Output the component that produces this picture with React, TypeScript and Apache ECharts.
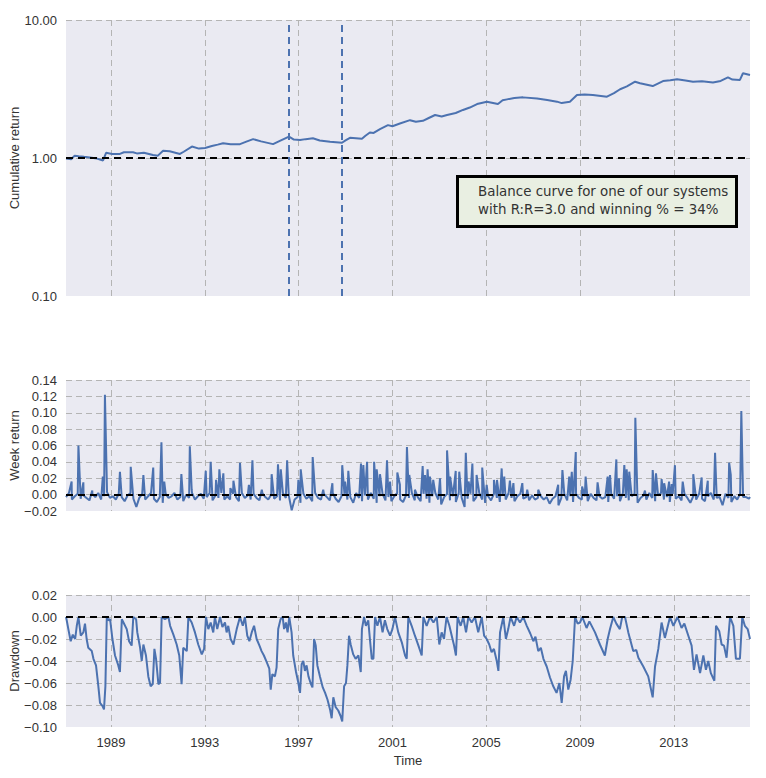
import React, { useEffect, useRef } from "react";
import * as echarts from "echarts";

// ---------- data (x in decimal years) ----------
const yearTicks = [1989, 1993, 1997, 2001, 2005, 2009, 2013];
const xMin = 1987.08;
const xMax = 2016.25;

const cumulative: [number, number][] = [
  [1987.08, 0.99], [1987.3, 0.98], [1987.45, 1.04], [1987.62, 1.03], [1987.85, 1.02], [1988.1, 1.01],
  [1988.4, 0.99], [1988.66, 0.96], [1988.79, 1.09], [1989.05, 1.07], [1989.38, 1.07], [1989.55, 1.1],
  [1989.94, 1.1], [1990.1, 1.08], [1990.4, 1.09], [1990.79, 1.05], [1991.0, 1.04], [1991.22, 1.13],
  [1991.5, 1.12], [1991.94, 1.07], [1992.1, 1.11], [1992.45, 1.21], [1992.75, 1.17], [1993.01, 1.18],
  [1993.3, 1.22], [1993.55, 1.25], [1993.78, 1.28], [1994.1, 1.26], [1994.5, 1.26], [1994.8, 1.32],
  [1995.06, 1.37], [1995.4, 1.32], [1995.91, 1.26], [1996.2, 1.33], [1996.59, 1.43], [1996.8, 1.36],
  [1997.06, 1.35], [1997.3, 1.37], [1997.61, 1.39], [1997.9, 1.34], [1998.34, 1.31], [1998.85, 1.29],
  [1999.0, 1.34], [1999.19, 1.4], [1999.7, 1.38], [1999.85, 1.45], [2000.04, 1.53], [2000.2, 1.52],
  [2000.47, 1.62], [2000.81, 1.73], [2001.0, 1.7], [2001.32, 1.78], [2001.75, 1.88], [2002.0, 1.83],
  [2002.3, 1.86], [2002.55, 1.95], [2002.82, 2.05], [2003.1, 2.0], [2003.33, 2.05], [2003.7, 2.12],
  [2004.01, 2.23], [2004.3, 2.32], [2004.61, 2.46], [2005.03, 2.56], [2005.5, 2.46], [2005.7, 2.62],
  [2005.89, 2.66], [2006.2, 2.72], [2006.57, 2.75], [2007.17, 2.7], [2007.6, 2.63], [2008.02, 2.56],
  [2008.22, 2.5], [2008.57, 2.56], [2008.87, 2.86], [2009.2, 2.88], [2009.55, 2.86], [2010.15, 2.78],
  [2010.45, 2.95], [2010.71, 3.15], [2011.0, 3.3], [2011.35, 3.57], [2011.56, 3.48], [2012.1, 3.32],
  [2012.3, 3.45], [2012.54, 3.61], [2012.85, 3.66], [2013.14, 3.72], [2013.5, 3.65], [2013.82, 3.57],
  [2014.2, 3.6], [2014.67, 3.52], [2015.0, 3.62], [2015.31, 3.84], [2015.5, 3.7], [2015.82, 3.68],
  [2015.95, 4.11], [2016.25, 3.99],
];

// weekly-return background noise, one reading every 1.5 months from 1987.08
const weekNoiseStart = 1987.08;
const weekNoiseStep = 0.125;
const weekNoise = [
  -0.003, 0.002, -0.006, -0.002, 0.001, -0.005, -0.001, -0.004,
  -0.007, 0.001, -0.003, 0.002, -0.006, -0.002, 0.003, -0.004,
  -0.002, -0.006, 0.001, -0.003, -0.008, -0.001, 0.002, -0.005,
  -0.015, -0.004, 0.001, -0.006, -0.002, 0.002, -0.005, -0.009,
  -0.003, -0.01, 0.001, -0.004, -0.002, 0.002, -0.006, -0.003,
  -0.008, 0.0, -0.004, 0.002, -0.006, -0.002, 0.001, -0.005,
  -0.003, 0.002, -0.007, -0.001, -0.004, 0.002, -0.006, -0.002,
  -0.006, 0.001, -0.003, -0.008, 0.002, -0.004, -0.001, -0.006,
  0.001, -0.004, -0.007, 0.002, -0.003, -0.006, 0.0, -0.005,
  -0.002, -0.007, 0.002, -0.004, -0.001, -0.019, -0.006, -0.003,
  -0.01, 0.001, -0.005, -0.002, -0.008, 0.002, -0.004, -0.006,
  0.001, -0.003, -0.007, 0.002, -0.005, -0.009, -0.002, 0.001,
  -0.006, -0.003, -0.01, 0.002, -0.004, -0.008, -0.001, -0.006,
  0.002, -0.005, -0.01, -0.002, 0.001, -0.007, -0.003, -0.008,
  -0.002, 0.002, -0.006, -0.009, -0.001, -0.004, 0.002, -0.007,
  -0.003, -0.008, 0.001, -0.005, -0.01, -0.002, 0.002, -0.006,
  -0.012, -0.003, 0.001, -0.007, -0.002, -0.009, 0.002, -0.004,
  -0.015, -0.005, 0.001, -0.008, -0.003, 0.002, -0.006, -0.01,
  -0.002, -0.007, 0.001, -0.004, -0.009, -0.001, -0.006, 0.002,
  -0.004, -0.008, -0.002, 0.001, -0.005, -0.003, -0.007, -0.001,
  -0.006, -0.004, -0.002, -0.006, -0.003, -0.011, -0.005, -0.002,
  -0.013, -0.004, 0.001, -0.007, -0.002, -0.009, 0.001, -0.004,
  -0.006, -0.002, -0.008, 0.001, -0.004, -0.007, -0.002, -0.005,
  -0.003, -0.009, 0.001, -0.005, -0.002, -0.008, 0.002, -0.004,
  -0.007, -0.002, 0.001, -0.01, -0.004, -0.001, -0.006, 0.002,
  -0.004, -0.008, -0.001, 0.002, -0.006, -0.003, -0.009, 0.001,
  -0.005, -0.002, -0.007, 0.001, -0.004, -0.01, -0.002, -0.006,
  0.001, -0.005, -0.008, -0.002, 0.002, -0.006, -0.004, -0.003,
  -0.013, 0.001, -0.004, -0.009, -0.002, -0.006, 0.001, -0.003,
  -0.003, -0.005,
];

const weekSpikes: [number, number][] = [
  [1987.32, 0.016], [1987.61, 0.06], [1987.82, 0.015], [1988.2, 0.005], [1988.65, 0.022], [1988.74, 0.122],
  [1989.38, 0.028], [1989.84, 0.034], [1990.38, 0.024], [1990.8, 0.033], [1991.15, 0.064], [1991.27, 0.016],
  [1992.0, 0.025], [1992.36, 0.059], [1992.44, 0.006], [1993.04, 0.029], [1993.25, 0.04], [1993.48, 0.018],
  [1993.62, 0.031], [1993.79, 0.026], [1994.09, 0.008], [1994.22, 0.017], [1994.5, 0.039], [1994.88, 0.012],
  [1995.03, 0.042], [1995.43, 0.006], [1995.85, 0.025], [1996.12, 0.037], [1996.24, 0.031], [1996.51, 0.042],
  [1996.99, 0.018], [1997.09, 0.031], [1997.6, 0.046], [1998.05, 0.006], [1998.44, 0.014], [1998.86, 0.036],
  [1998.98, 0.016], [1999.12, 0.029], [1999.66, 0.038], [1999.76, 0.036], [1999.92, 0.04], [2000.22, 0.04],
  [2000.33, 0.031], [2000.47, 0.025], [2000.77, 0.042], [2000.9, 0.016], [2001.21, 0.027], [2001.32, 0.012],
  [2001.62, 0.058], [2001.72, 0.024], [2001.96, 0.006], [2002.29, 0.035], [2002.39, 0.024], [2002.5, 0.031],
  [2002.6, 0.022], [2002.74, 0.018], [2003.03, 0.02], [2003.33, 0.054], [2003.46, 0.022], [2003.7, 0.029],
  [2003.85, 0.028], [2004.13, 0.051], [2004.25, 0.016], [2004.41, 0.038], [2004.59, 0.024], [2004.83, 0.033],
  [2005.02, 0.012], [2005.33, 0.018], [2005.46, 0.018], [2005.66, 0.032], [2005.77, 0.022], [2006.01, 0.017],
  [2006.16, 0.014], [2006.54, 0.014], [2006.75, 0.006], [2007.22, 0.006], [2008.07, 0.012], [2008.25, 0.03],
  [2008.54, 0.022], [2008.65, 0.028], [2008.82, 0.052], [2009.09, 0.01], [2009.24, 0.022], [2009.75, 0.015],
  [2010.18, 0.022], [2010.28, 0.024], [2010.55, 0.043], [2010.66, 0.02], [2010.89, 0.036], [2010.99, 0.031],
  [2011.1, 0.028], [2011.36, 0.094], [2011.77, 0.005], [2012.1, 0.03], [2012.24, 0.026], [2012.48, 0.019],
  [2012.59, 0.014], [2012.8, 0.016], [2012.91, 0.013], [2013.05, 0.036], [2013.38, 0.016], [2013.83, 0.025],
  [2014.19, 0.021], [2014.45, 0.017], [2014.76, 0.051], [2015.36, 0.039], [2015.43, 0.024], [2015.88, 0.102],
  [2016.25, -0.003],
];

const drawdown: [number, number][] = [
  [1987.08, 0], [1987.11, -0.003], [1987.18, -0.011], [1987.28, -0.022], [1987.37, -0.016], [1987.47, -0.02],
  [1987.54, -0.008], [1987.61, 0], [1987.71, -0.017], [1987.82, -0.014], [1987.89, -0.006], [1987.96, -0.02],
  [1988.03, -0.028], [1988.18, -0.031], [1988.25, -0.038], [1988.36, -0.044], [1988.46, -0.063], [1988.53, -0.078],
  [1988.64, -0.081], [1988.7, -0.084], [1988.76, -0.063], [1988.82, 0], [1988.89, -0.003], [1988.96, -0.002],
  [1989.06, -0.02], [1989.17, -0.035], [1989.31, -0.044], [1989.38, -0.05], [1989.46, -0.002], [1989.53, -0.005],
  [1989.67, -0.011], [1989.77, -0.022], [1989.88, -0.026], [1989.95, 0], [1990.07, -0.002], [1990.12, -0.014],
  [1990.24, -0.028], [1990.31, -0.04], [1990.38, -0.025], [1990.49, -0.035], [1990.59, -0.054], [1990.69, -0.063],
  [1990.78, -0.061], [1990.85, -0.029], [1990.92, -0.038], [1991.02, -0.061], [1991.09, -0.06], [1991.16, 0],
  [1991.3, -0.002], [1991.45, 0], [1991.52, -0.008], [1991.66, -0.016], [1991.8, -0.025], [1991.91, -0.035],
  [1992.01, -0.061], [1992.08, -0.028], [1992.23, -0.031], [1992.3, 0], [1992.44, -0.005], [1992.58, -0.014],
  [1992.72, -0.025], [1992.87, -0.034], [1992.97, -0.029], [1993.05, 0], [1993.15, -0.011], [1993.25, -0.005],
  [1993.36, -0.014], [1993.43, 0], [1993.53, -0.011], [1993.65, 0], [1993.75, -0.009], [1993.86, -0.005],
  [1993.93, -0.014], [1994.0, -0.008], [1994.1, -0.02], [1994.22, -0.025], [1994.36, -0.011], [1994.5, 0],
  [1994.62, -0.008], [1994.71, 0], [1994.81, -0.017], [1994.9, -0.022], [1995.0, -0.014], [1995.1, -0.008],
  [1995.21, -0.02], [1995.33, -0.026], [1995.42, -0.031], [1995.52, -0.035], [1995.64, -0.041], [1995.75, -0.047],
  [1995.81, -0.066], [1995.88, -0.052], [1995.99, -0.054], [1996.06, -0.046], [1996.13, -0.011], [1996.23, -0.002],
  [1996.32, 0], [1996.38, -0.011], [1996.46, -0.005], [1996.53, -0.014], [1996.6, 0], [1996.7, -0.014],
  [1996.77, -0.035], [1996.89, -0.05], [1996.99, -0.06], [1997.06, -0.069], [1997.13, -0.043], [1997.2, -0.04],
  [1997.27, -0.049], [1997.34, -0.044], [1997.42, -0.054], [1997.51, -0.06], [1997.59, -0.064], [1997.66, -0.02],
  [1997.73, -0.026], [1997.8, -0.044], [1997.91, -0.054], [1998.03, -0.064], [1998.13, -0.069], [1998.23, -0.075],
  [1998.34, -0.084], [1998.41, -0.092], [1998.48, -0.073], [1998.58, -0.082], [1998.69, -0.085], [1998.79, -0.09],
  [1998.86, -0.095], [1998.94, -0.063], [1999.02, -0.06], [1999.08, -0.044], [1999.15, -0.017], [1999.22, -0.025],
  [1999.33, -0.034], [1999.43, -0.038], [1999.55, -0.035], [1999.65, -0.05], [1999.7, -0.011], [1999.79, 0],
  [1999.87, -0.008], [1999.97, -0.003], [2000.04, -0.02], [2000.12, -0.038], [2000.19, -0.038], [2000.26, 0],
  [2000.36, -0.008], [2000.47, 0], [2000.58, -0.014], [2000.68, -0.003], [2000.78, -0.011], [2000.9, -0.017],
  [2001.0, -0.011], [2001.11, 0], [2001.25, -0.014], [2001.4, -0.023], [2001.54, -0.035], [2001.61, -0.038],
  [2001.68, 0], [2001.82, -0.008], [2001.96, -0.017], [2002.11, -0.026], [2002.25, -0.035], [2002.32, 0],
  [2002.46, -0.008], [2002.6, 0], [2002.75, -0.005], [2002.89, 0], [2003.0, -0.025], [2003.1, -0.014],
  [2003.2, -0.02], [2003.31, 0], [2003.43, -0.008], [2003.53, -0.017], [2003.63, -0.026], [2003.71, -0.035],
  [2003.78, 0], [2003.91, -0.008], [2004.02, 0], [2004.14, -0.014], [2004.24, 0], [2004.38, -0.005],
  [2004.52, 0], [2004.66, -0.014], [2004.81, 0], [2004.91, -0.017], [2005.02, -0.02], [2005.13, -0.025],
  [2005.23, -0.032], [2005.33, -0.029], [2005.45, -0.04], [2005.52, -0.049], [2005.59, -0.014], [2005.73, 0],
  [2005.84, -0.02], [2005.94, -0.011], [2006.04, 0], [2006.19, -0.008], [2006.3, 0], [2006.44, -0.005],
  [2006.58, 0], [2006.73, -0.008], [2006.88, -0.015], [2007.01, -0.022], [2007.1, -0.018], [2007.22, -0.031],
  [2007.33, -0.028], [2007.44, -0.038], [2007.58, -0.045], [2007.72, -0.055], [2007.86, -0.063], [2008.0, -0.069],
  [2008.12, -0.06], [2008.22, -0.078], [2008.32, -0.054], [2008.4, -0.049], [2008.5, -0.066], [2008.6, -0.057],
  [2008.69, -0.04], [2008.79, 0], [2008.9, -0.006], [2009.0, -0.005], [2009.1, 0], [2009.28, -0.01],
  [2009.4, -0.004], [2009.64, -0.014], [2009.85, -0.025], [2010.06, -0.035], [2010.18, -0.02], [2010.28, -0.011],
  [2010.42, 0], [2010.55, -0.006], [2010.7, -0.011], [2010.8, 0], [2010.92, 0], [2011.06, -0.014],
  [2011.27, -0.031], [2011.4, -0.03], [2011.49, -0.037], [2011.7, -0.045], [2011.91, -0.054], [2012.1, -0.073],
  [2012.2, -0.045], [2012.34, -0.029], [2012.48, -0.005], [2012.62, -0.019], [2012.84, 0], [2012.98, -0.008],
  [2013.16, 0], [2013.33, -0.01], [2013.45, -0.006], [2013.62, -0.017], [2013.76, -0.026], [2013.86, -0.048],
  [2013.97, -0.034], [2014.12, -0.051], [2014.26, -0.035], [2014.37, -0.048], [2014.47, -0.04], [2014.58, -0.051],
  [2014.73, -0.058], [2014.8, -0.008], [2014.94, -0.013], [2015.04, -0.025], [2015.14, -0.026], [2015.25, -0.037],
  [2015.4, 0], [2015.54, -0.008], [2015.65, -0.038], [2015.82, -0.038], [2015.92, 0], [2016.03, -0.008],
  [2016.15, -0.011], [2016.25, -0.02],
];

const markerDates = [1996.59, 1998.85];
const noteLines = ["Balance curve for one of our systems", "with R:R=3.0 and winning % = 34%"];

// ---------- styling ----------
const BLUE = "#4C72B0";
const BG = "#EAEAF2";
const GRID_COLOR = "#b4b4b4";
const TEXT = "#333333";
const FONT = "'Liberation Sans', Arial, sans-serif";

const fmt2 = (v: number) => {
  if (Math.abs(v) < 1e-9) return "0.00";
  return v < 0 ? "\u2212" + Math.abs(v).toFixed(2) : v.toFixed(2);
};

export default function App() {
  const ref = useRef<HTMLDivElement>(null);

  useEffect(() => {
    if (!ref.current) return;
    const chart = echarts.init(ref.current, undefined, { renderer: "svg" });

    const weekData: [number, number][] = weekNoise
      .map((v, i) => [weekNoiseStart + i * weekNoiseStep, v] as [number, number])
      .concat(weekSpikes)
      .filter((p) => p[0] <= xMax)
      .sort((a, b) => a[0] - b[0]);

    const grids = [
      { left: 66, top: 20, width: 684, height: 276 },
      { left: 66, top: 380, width: 684, height: 131 },
      { left: 66, top: 595, width: 684, height: 132 },
    ].map((g) => ({
      ...g,
      show: true,
      backgroundColor: BG,
      borderWidth: 0,
      containLabel: false,
      outerBoundsMode: "none",
    }));

    const splitLine = {
      show: true,
      showMinLine: false,
      lineStyle: { color: GRID_COLOR, type: [6, 4] as any, width: 1 },
    };

    const xAxis = [0, 1, 2].map((i) => ({
      type: "value" as const,
      gridIndex: i,
      min: xMin,
      max: xMax,
      axisLine: { show: false },
      axisTick: { show: false, customValues: yearTicks },
      axisLabel: {
        show: i === 2,
        customValues: yearTicks,
        formatter: (v: number) => String(Math.round(v)),
        color: TEXT,
        fontFamily: FONT,
        fontSize: 13,
        margin: 9,
      },
      splitLine: { ...splitLine, showMinLine: true },
      name: i === 2 ? "Time" : "",
      nameLocation: "middle" as const,
      nameGap: 27,
      nameMoveOverlap: false,
      nameTextStyle: { color: TEXT, fontFamily: FONT, fontSize: 13 },
    }));

    const yCommon = {
      axisLine: { show: false },
      axisTick: { show: false },
      splitLine,
      nameLocation: "middle" as const,
      nameGap: 45,
      nameMoveOverlap: false,
      nameTextStyle: { color: TEXT, fontFamily: FONT, fontSize: 13 },
    };
    const yLabel = { color: TEXT, fontFamily: FONT, fontSize: 13, margin: 9, formatter: fmt2 };

    const yAxis = [
      { ...yCommon, type: "log" as const, logBase: 10, gridIndex: 0, min: 0.1, max: 10, name: "Cumulative return", axisLabel: yLabel },
      { ...yCommon, type: "value" as const, gridIndex: 1, min: -0.02, max: 0.14, interval: 0.02, name: "Week return", axisLabel: yLabel },
      { ...yCommon, type: "value" as const, gridIndex: 2, min: -0.1, max: 0.02, interval: 0.02, name: "Drawdown", axisLabel: yLabel },
    ];

    const blackDash = { color: "#000", width: 2, type: [7, 5] as any };

    chart.setOption({
      animation: false,
      grid: grids,
      xAxis,
      yAxis,
      series: [
        {
          type: "line",
          xAxisIndex: 0,
          yAxisIndex: 0,
          data: cumulative,
          showSymbol: false,
          lineStyle: { color: BLUE, width: 2 },
          markLine: {
            silent: true,
            symbol: "none",
            label: { show: false },
            data: [
              { yAxis: 1, lineStyle: blackDash },
              ...markerDates.map((d) => ({ xAxis: d, lineStyle: { color: BLUE, width: 2, type: [7, 5] as any } })),
            ],
          },
        },
        {
          type: "line",
          xAxisIndex: 1,
          yAxisIndex: 1,
          data: weekData,
          showSymbol: false,
          lineStyle: { color: BLUE, width: 2 },
          markLine: {
            silent: true,
            symbol: "none",
            label: { show: false },
            data: [{ yAxis: 0, lineStyle: blackDash }],
          },
        },
        {
          type: "line",
          xAxisIndex: 2,
          yAxisIndex: 2,
          data: drawdown,
          showSymbol: false,
          lineStyle: { color: BLUE, width: 2 },
          markLine: {
            silent: true,
            symbol: "none",
            label: { show: false },
            data: [{ yAxis: 0, lineStyle: blackDash }],
          },
        },
      ],
      graphic: [
        {
          type: "rect",
          z: 100,
          shape: { x: 457.5, y: 176.5, width: 279, height: 50 },
          style: { fill: "#E9EFE2", stroke: "#000", lineWidth: 3 },
        },
        {
          type: "text",
          z: 101,
          x: 478,
          y: 182,
          style: {
            text: noteLines.join("\n"),
            font: "13.4px 'DejaVu Sans'",
            fill: "#333",
            lineHeight: 18,
            align: "left",
            verticalAlign: "top",
          },
        },
      ],
    });

    return () => chart.dispose();
  }, []);

  return (
    <div
      ref={ref}
      style={{ position: "fixed", left: 0, top: 0, width: 766, height: 778, background: "#fff" }}
    />
  );
}
